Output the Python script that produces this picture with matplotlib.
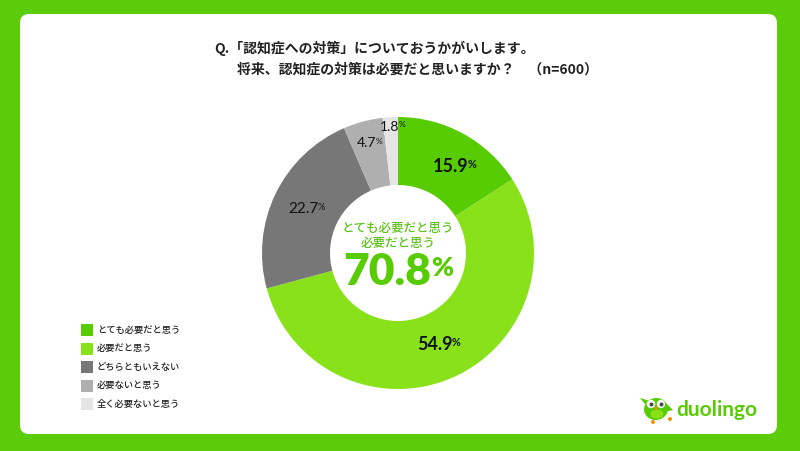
import numpy as np
import matplotlib
matplotlib.use("Agg")
import matplotlib.pyplot as plt
from matplotlib.patches import FancyBboxPatch, Rectangle, Ellipse, Circle, Polygon

plt.rcParams['font.family'] = ['Noto Sans CJK JP', 'DejaVu Sans']

# data
categories = ["とても必要だと思う", "必要だと思う", "どちらともいえない", "必要ないと思う", "全く必要ないと思う"]
values = [15.9, 54.9, 22.7, 4.7, 1.8]
colors = ["#58CC02", "#89E219", "#777777", "#AFAFAF", "#E5E5E5"]
center_lines = ["とても必要だと思う", "必要だと思う"]
center_value = "70.8"
title_1 = "Q.「認知症への対策」についておうかがいします。"
title_2 = "将来、認知症の対策は必要だと思いますか？　（n=600）"

W, H = 800, 451
GREEN_BG = "#5ACC0A"
NUM_FONT = ['Lato', 'DejaVu Sans']

fig = plt.figure(figsize=(W / 100, H / 100), dpi=100)
fig.patch.set_facecolor(GREEN_BG)

# background / panel in pixel coords
bg = fig.add_axes([0, 0, 1, 1])
bg.set_xlim(0, W)
bg.set_ylim(H, 0)
bg.axis('off')
bg.add_patch(FancyBboxPatch((20, 14), 757, 420, boxstyle="round,pad=0,rounding_size=9",
                            facecolor="white", edgecolor="none"))

# title
bg.text(214, 48, title_1, fontsize=10, fontweight='bold', color="#222222", va='center', ha='left')
bg.text(237, 70, title_2, fontsize=10, fontweight='bold', color="#222222", va='center', ha='left')

# legend
for i, (lab, col) in enumerate(zip(categories, colors)):
    y = 330 + i * 18.6
    bg.add_patch(Rectangle((81, y - 6), 12, 12, facecolor=col, edgecolor='none'))
    bg.text(97, y, lab, fontsize=6.7, fontweight='medium', color="#222222", va='center', ha='left')

# donut
cx, cy, R = 398, 253, 136
pax = fig.add_axes([(cx - R) / W, (H - cy - R) / H, 2 * R / W, 2 * R / H])
wedges, _ = pax.pie(values, colors=colors, startangle=90, counterclock=False, radius=1,
                    wedgeprops=dict(width=0.5, edgecolor='none'))
pax.set_xlim(-1, 1)
pax.set_ylim(-1, 1)
pax.axis('off')

# percentage labels: (radius, angle override, fontsize, weight)
label_style = [
    (0.76, 57, 13, 'bold'),
    (0.74, None, 13, 'bold'),
    (0.74, None, 11, 'normal'),
    (0.83, 104, 10, 'normal'),
    (0.93, 92, 10, 'normal'),
]
cum = 0
for v, (r, ang, fs, fw) in zip(values, label_style):
    mid = 90 - (cum + v / 2) * 3.6
    cum += v
    if ang is not None:
        mid = ang
    x, y = r * np.cos(np.radians(mid)), r * np.sin(np.radians(mid))
    t = pax.text(x - 0.03, y, f"{v:.1f}", fontsize=fs, fontweight=fw, color="#111111",
                 ha='center', va='center', family=NUM_FONT)
    pax.annotate("%", xy=(1, 0.95), xycoords=t, xytext=(-0.5, 0), textcoords='offset points',
                 fontsize=fs * 0.6, fontweight=fw, color="#111111", ha='left', va='top',
                 family=NUM_FONT)

# center text
pax.text(0, 0.18, center_lines[0], fontsize=9, fontweight='medium', color="#5FC21A", ha='center', va='center')
pax.text(0, 0.07, center_lines[1], fontsize=9, fontweight='medium', color="#5FC21A", ha='center', va='center')
t = pax.text(-0.08, -0.14, center_value, fontsize=32, fontweight='heavy', color="#58CC02",
             ha='center', va='center', family=NUM_FONT)
pax.annotate("%", xy=(1, 0.9), xycoords=t, xytext=(0, 0), textcoords='offset points',
             fontsize=19, fontweight='heavy', color="#58CC02", ha='left', va='top',
             family=NUM_FONT)

# logo: simple owl + wordmark
bg.add_patch(Polygon([(645, 404), (640, 398), (650, 401)], closed=True, facecolor="#58CC02", edgecolor='none'))
bg.add_patch(Polygon([(667, 404), (673, 410), (664, 412)], closed=True, facecolor="#58CC02", edgecolor='none'))
bg.add_patch(Ellipse((656, 409), 24, 22, angle=-10, facecolor="#58CC02", edgecolor='none'))
bg.add_patch(Ellipse((657, 414), 13, 9, facecolor="#89E219", edgecolor='none'))
bg.add_patch(Circle((651, 404), 4.2, facecolor="white", edgecolor='none'))
bg.add_patch(Circle((661, 404), 4.2, facecolor="white", edgecolor='none'))
bg.add_patch(Circle((651.5, 404.5), 2, facecolor="#4B4B4B", edgecolor='none'))
bg.add_patch(Circle((661.5, 404.5), 2, facecolor="#4B4B4B", edgecolor='none'))
bg.add_patch(Polygon([(654, 407), (658, 407), (656, 411)], closed=True, facecolor="#F49000", edgecolor='none'))
bg.add_patch(Circle((653, 422), 2, facecolor="#F49000", edgecolor='none'))
bg.add_patch(Circle((670, 419), 2, facecolor="#F49000", edgecolor='none'))
bg.text(676, 410, "duolingo", fontsize=15, fontweight='bold', color="#58CC02",
        ha='left', va='center', family=NUM_FONT)

fig.savefig("out.png", dpi=100, facecolor=fig.get_facecolor())
